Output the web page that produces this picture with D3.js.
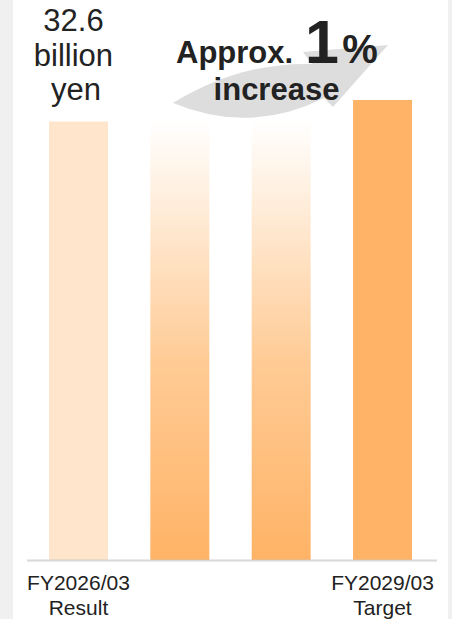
<!DOCTYPE html>
<html>
<head>
<meta charset="utf-8">
<script src="https://cdn.jsdelivr.net/npm/d3@7"></script>
<style>
  html, body { margin: 0; padding: 0; background: #f0f0f0; }
  svg { display: block; }
  text { font-family: "Liberation Sans", Arial, sans-serif; fill: #222; }
</style>
</head>
<body>
<svg id="chart" width="452" height="619"></svg>
<script>
// Net sales outlook, billion yen
const categories = ["FY2026/03", "FY2027/03", "FY2028/03", "FY2029/03"];
const values = [32.6, 32.7, 32.7, 34.2];
const tickLabels = ["FY2026/03", "", "", "FY2029/03"];
const tickSubLabels = ["Result", "", "", "Target"];
const barKinds = ["result", "path", "path", "target"];
const valueLines = ["32.6", "billion", "yen"];

const W = 452, H = 619;
const svg = d3.select("#chart");

// white card
svg.append("rect").attr("x", 13).attr("y", 0).attr("width", 435).attr("height", H).attr("fill", "#fff");

const defs = svg.append("defs");
const grad = defs.append("linearGradient").attr("id", "fade").attr("x1", 0).attr("y1", 0).attr("x2", 0).attr("y2", 1);
grad.append("stop").attr("offset", "0%").attr("stop-color", "#ffffff");
grad.append("stop").attr("offset", "55%").attr("stop-color", "#ffcb95");
grad.append("stop").attr("offset", "100%").attr("stop-color", "#ffb366");

const x = d3.scaleBand().domain(categories).range([27.8, 433.2]).paddingInner(0.418).paddingOuter(0.209);
const y = d3.scaleLinear().domain([0, d3.max(values)]).range([560, 100]);

const fills = { result: "#fee5cc", path: "url(#fade)", target: "#ffb366" };

svg.append("g").selectAll("rect").data(categories).join("rect")
  .attr("x", d => x(d))
  .attr("y", (d, i) => y(values[i]))
  .attr("width", x.bandwidth())
  .attr("height", (d, i) => y(0) - y(values[i]))
  .attr("fill", (d, i) => fills[barKinds[i]]);

// baseline
svg.append("line").attr("x1", 27).attr("x2", 437).attr("y1", 560.5).attr("y2", 560.5)
  .attr("stroke", "#c8c8c8").attr("stroke-opacity", 0.7).attr("stroke-width", 2);

// category axis
const axis = svg.append("g").attr("transform", `translate(0,${y(0)})`)
  .call(d3.axisBottom(x).tickSize(0).tickFormat((d, i) => tickLabels[i]));
axis.select(".domain").remove();
axis.selectAll(".tick text")
  .attr("font-size", 21).attr("font-family", "Liberation Sans, Arial, sans-serif").attr("fill", "#222")
  .attr("y", 0).attr("dy", null)
  .each(function (d, i) {
    const t = d3.select(this);
    t.text(null);
    t.append("tspan").attr("x", 0).attr("y", 30).text(tickLabels[i]);
    t.append("tspan").attr("x", 0).attr("y", 55).text(tickSubLabels[i]);
  });

// growth arrow
const arrow = d3.path();
arrow.moveTo(173, 103);
arrow.quadraticCurveTo(240, 62, 312, 64);
arrow.lineTo(303, 52);
arrow.lineTo(388, 45);
arrow.lineTo(333, 107);
arrow.lineTo(324, 98);
arrow.quadraticCurveTo(250, 135, 173, 103);
arrow.closePath();
svg.append("path").attr("d", arrow.toString()).attr("fill", "#dddddd");

// value label for the result bar
const cx0 = x(categories[0]) + x.bandwidth() / 2 - 5;
const lineShift = [0, 0, 2.5];
svg.append("text").attr("text-anchor", "middle").attr("font-size", 31)
  .selectAll("tspan").data(valueLines).join("tspan")
  .attr("x", (d, i) => cx0 + lineShift[i]).attr("y", (d, i) => 31 + i * 34.5).text(d => d);

// growth note
svg.append("text").attr("x", 176).attr("y", 63).attr("font-size", 31).attr("font-weight", "bold").text("Approx.");
svg.append("text").attr("x", 322).attr("y", 63).attr("text-anchor", "middle").attr("font-size", 61).attr("font-weight", "bold").text("1");
svg.append("text").attr("x", 360).attr("y", 63).attr("text-anchor", "middle").attr("font-size", 40).attr("font-weight", "bold").text("%");
svg.append("text").attr("x", 276.5).attr("y", 100).attr("text-anchor", "middle").attr("font-size", 31).attr("font-weight", "bold").text("increase");
</script>
</body>
</html>
